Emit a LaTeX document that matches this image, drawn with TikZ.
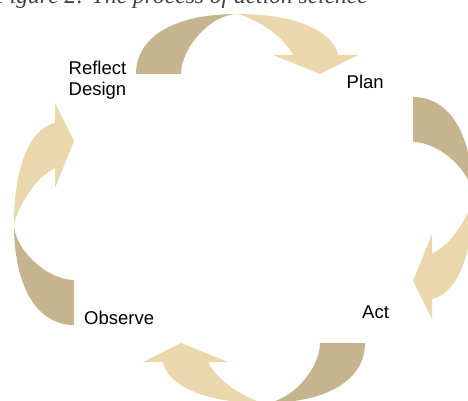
\documentclass[tikz,border=0pt]{standalone}
\usepackage{fontspec}
\setmainfont{Liberation Sans}
\newfontfamily\capfont{Liberation Serif}
\definecolor{arrowdark}{RGB}{197,180,142}
\definecolor{arrowlight}{RGB}{234,216,172}
\tikzset{
  lbl/.style={inner sep=0pt, font=\fontsize{18.5}{21.5}\selectfont, text=black},
  cyclearrow/.pic={
    % dark tail crescent
    \fill[arrowdark] (0,0) .. controls (0,37.2) and (38.4,60) .. (101,60)
       .. controls (75.8,60) and (45,27) .. (45,0) -- cycle;
    % light head crescent with arrowhead
    \fill[arrowlight] (101,60) .. controls (166,60) and (198,40) .. (202,19)
       -- (222,19) -- (184,0) -- (137,19) -- (157,19)
       .. controls (144,44) and (111,58) .. (101,60) -- cycle;
  }
}
\begin{document}
\begin{tikzpicture}[x=1pt,y=1pt]
\useasboundingbox (0,0) rectangle (468,-401);
\begin{scope}
\clip (0,0) rectangle (468,-401);
\node[anchor=base east, inner sep=0pt, font=\capfont\itshape\fontsize{23.5}{26}\selectfont, text=black!75] (caption) at (368,-4) {Figure 2: The process of action science};
\pic at (136,-74) {cyclearrow};
\pic[rotate=-90] at (413,-97) {cyclearrow};
\pic[rotate=180] at (365,-343) {cyclearrow};
\pic[rotate=90] at (74,-325) {cyclearrow};
\end{scope}
\node[lbl, anchor=north west, align=left] (reflect) at (68.5,-60.5) {Reflect\\Design};
\node[lbl, anchor=base west] (plan) at (346.5,-89) {Plan};
\node[lbl, anchor=base west] (act) at (362,-318) {Act};
\node[lbl, anchor=base west] (observe) at (84,-324) {Observe};
\end{tikzpicture}
\end{document}
